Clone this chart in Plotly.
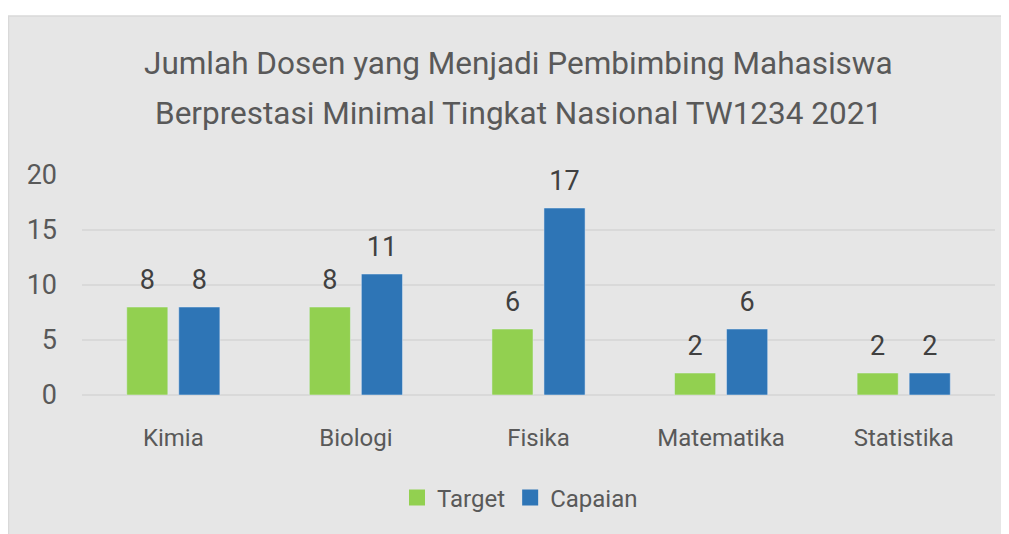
import plotly.graph_objects as go

categories = ["Kimia", "Biologi", "Fisika", "Matematika", "Statistika"]
target = [8, 8, 6, 2, 2]
capaian = [8, 11, 17, 6, 2]
y_ticks = [0, 5, 10, 15, 20]
title_lines = ["Jumlah Dosen yang Menjadi Pembimbing Mahasiswa",
               "Berprestasi Minimal Tingkat Nasional TW1234 2021"]

FONT = "Roboto, sans-serif"
GREEN = "#92d050"
BLUE = "#2e75b6"
PANEL = "#e6e6e6"
W, H = 1009, 526
L, R, T, B = 74, 22, 167, 139
pw = W - L - R
ph = H - T - B


def fy(ypix):
    return (T + ph - ypix) / ph


def fx(xpix):
    return (xpix - L) / pw


fig = go.Figure()
for name, vals, col in [("Target", target, GREEN), ("Capaian", capaian, BLUE)]:
    fig.add_trace(go.Bar(name=name, x=categories, y=vals, marker_color=col,
                         showlegend=False, hoverinfo="skip"))
for name, vals, col in [("Target", target, GREEN), ("Capaian", capaian, BLUE)]:
    fig.add_trace(go.Scatter(x=categories, y=vals, mode="markers+text", text=vals,
                             textposition="top center",
                             marker=dict(size=16, opacity=0, color=col),
                             textfont=dict(size=27, color="#404040", family=FONT),
                             showlegend=False, hoverinfo="skip", cliponaxis=False))
for name, col in [("Target", GREEN), ("Capaian", BLUE)]:
    fig.add_trace(go.Scatter(x=[None], y=[None], xaxis="x2", mode="markers", name=name,
                             marker=dict(symbol="square", size=18, color=col)))

# white strip above the panel, then panel outline
fig.add_shape(type="rect", xref="paper", yref="paper",
              x0=fx(-5), x1=fx(W + 5), y0=fy(8), y1=fy(-5),
              fillcolor="white", line=dict(width=0), layer="below")
fig.add_shape(type="rect", xref="paper", yref="paper",
              x0=fx(0.5), x1=fx(1000), y0=fy(H + 5), y1=fy(8),
              fillcolor="rgba(0,0,0,0)", line=dict(color="#d9d9d9", width=1.5), layer="below")

for i, line in enumerate(title_lines):
    fig.add_annotation(text=line, xref="paper", yref="paper", x=fx(510), y=fy(56 + 50 * i),
                       xanchor="center", yanchor="middle", showarrow=False,
                       font=dict(family=FONT, size=31.5, color="#595959"))

fig.update_layout(
    width=W, height=H,
    margin=dict(l=L, r=R, t=T, b=B),
    paper_bgcolor=PANEL, plot_bgcolor="rgba(0,0,0,0)",
    barmode="group", bargap=0.43, bargroupgap=0.21,
    scattermode="group", scattergap=0.43,
    font=dict(family=FONT, color="#595959"),
    showlegend=True,
    legend=dict(orientation="h", x=fx(512), xanchor="center", xref="paper",
                y=fy(490), yanchor="middle",
                font=dict(size=24, color="#595959", family=FONT),
                itemwidth=30, bgcolor="rgba(0,0,0,0)"),
    xaxis=dict(showgrid=False, showline=False, ticks="", tickfont=dict(size=24, color="#595959"),
               ticklabelstandoff=26, fixedrange=True),
    xaxis2=dict(overlaying="x", visible=False),
    yaxis=dict(range=[0, 20], tickvals=y_ticks, showgrid=True, gridcolor="#d9d9d9", gridwidth=1.5,
               zeroline=True, zerolinecolor="#d9d9d9", zerolinewidth=1.5, showline=False,
               tickfont=dict(size=27, color="#595959"), ticklabelstandoff=24),
)

fig.write_html("out.html")
